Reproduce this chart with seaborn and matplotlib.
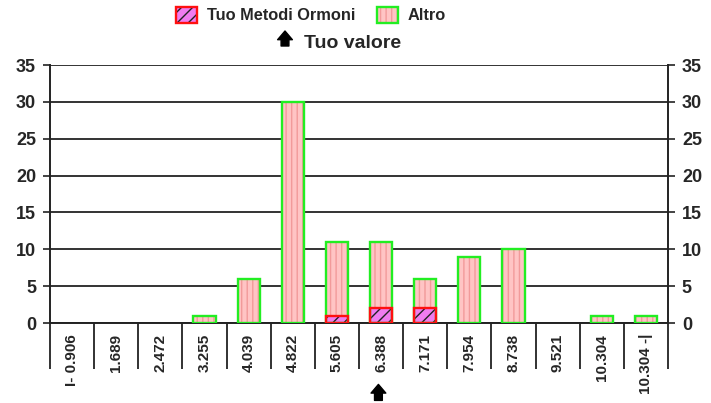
import matplotlib
matplotlib.use("Agg")
import matplotlib.pyplot as plt
from matplotlib.patches import Patch
from matplotlib.legend_handler import HandlerTuple
from matplotlib.text import Annotation
from matplotlib.transforms import blended_transform_factory
import seaborn as sns
import pandas as pd

# Class boundaries (bin labels) and counts
categories = ["I- 0.906", "1.689", "2.472", "3.255", "4.039", "4.822", "5.605",
              "6.388", "7.171", "7.954", "8.738", "9.521", "10.304", "10.304 -|"]
tuo_metodi = [0, 0, 0, 0, 0, 0, 1, 2, 2, 0, 0, 0, 0, 0]
altro = [0, 0, 0, 1, 6, 30, 10, 9, 4, 9, 10, 0, 1, 1]
y_ticks = [0, 5, 10, 15, 20, 25, 30, 35]
tuo_valore = "6.388"

sns.set_theme(style="white")
plt.rcParams["font.family"] = ["Liberation Sans", "DejaVu Sans"]
plt.rcParams["font.weight"] = "bold"
plt.rcParams["hatch.linewidth"] = 1.0

df = pd.DataFrame({"classe": categories, "tuo": tuo_metodi,
                   "altro": altro})
df["totale"] = df["tuo"] + df["altro"]

fig = plt.figure(figsize=(7.11, 4.03), dpi=100)
ax = fig.add_axes([50 / 711, 80 / 403, 618 / 711, 258 / 403])

pink_fill = "#ffc4c4"
pink_stripe = "#f29a9a"
green_edge = "#22ee22"
mag_fill = "#f07cf0"
red_edge = "#ff1010"
W = 0.5


def bars(values, face, hatch_color, hatch, edge):
    """Draw a striped/hatched layer and then its outline on top."""
    n0 = len(ax.patches)
    sns.barplot(data=df, x="classe", y=values, order=categories, color=face,
                width=W, ax=ax, errorbar=None, saturation=1)
    for p in ax.patches[n0:]:
        p.set_facecolor(face)
        p.set_edgecolor(hatch_color)
        p.set_hatch(hatch)
        p.set_linewidth(0)
        p.set_zorder(3)
    n1 = len(ax.patches)
    sns.barplot(data=df, x="classe", y=values, order=categories, color=face,
                width=W, ax=ax, errorbar=None, saturation=1)
    for p in ax.patches[n1:]:
        if p.get_height() <= 0:
            p.set_visible(False)
            continue
        p.set_facecolor("none")
        p.set_edgecolor(edge)
        p.set_linewidth(1.7)
        p.set_zorder(4)
    for p in ax.patches[n0:n1]:
        if p.get_height() <= 0:
            p.set_visible(False)


bars("totale", pink_fill, pink_stripe, "|||", green_edge)
bars("tuo", mag_fill, "#222222", "///", red_edge)

ax.set_ylim(0, 35)
ax.set_xlim(-0.5, len(categories) - 0.5)
ax.set_yticks(y_ticks)
ax.yaxis.grid(True, color="#333333", linewidth=1.4, zorder=0)
ax.set_axisbelow(True)
ax.tick_params(axis="y", left=True, right=True, labelleft=True,
               labelright=True, direction="out", length=5, width=1.2,
               color="#222222", labelsize=13, pad=5)
for lab in ax.get_yticklabels():
    lab.set_fontweight("bold")

# category separators hanging below the axis
ax.set_xticks([i - 0.5 for i in range(len(categories) + 1)], minor=True)
ax.tick_params(axis="x", which="minor", bottom=True, direction="out",
               length=33, width=1.3, color="#222222")
ax.tick_params(axis="x", which="major", bottom=False, length=0, pad=8,
               labelsize=11)
ax.set_xticklabels(categories, rotation=90, fontweight="bold", va="top")
ax.set_xlabel("")
ax.set_ylabel("")

for side in ["left", "right", "bottom"]:
    ax.spines[side].set_visible(True)
    ax.spines[side].set_color("#222222")
    ax.spines[side].set_linewidth(1.4)
ax.spines["top"].set_visible(False)

arrow_style = "simple,head_length=0.5,head_width=0.85,tail_width=0.45"
arrow_props = dict(arrowstyle=arrow_style, color="black",
                   shrinkA=0, shrinkB=0, mutation_scale=12.5)

# marker under the bin holding your value
idx = categories.index(tuo_valore)
trans = blended_transform_factory(ax.transData, ax.transAxes)
ax.annotate("", xy=(idx - 0.06, -0.238), xycoords=trans,
            xytext=(idx - 0.06, -0.300), textcoords=trans,
            arrowprops=arrow_props, annotation_clip=False)

# legend
h_tuo = (Patch(facecolor=mag_fill, edgecolor="#222222", hatch="///", lw=0),
         Patch(facecolor="none", edgecolor=red_edge, lw=1.7))
h_alt = (Patch(facecolor=pink_fill, edgecolor=pink_stripe, hatch="|||", lw=0),
         Patch(facecolor="none", edgecolor=green_edge, lw=1.7))
fig.legend([h_tuo, h_alt], ["Tuo Metodi Ormoni", "Altro"],
           handler_map={tuple: HandlerTuple(ndivide=1, pad=0)},
           loc="center", bbox_to_anchor=(311 / 711, 1 - 15 / 403), ncol=2,
           frameon=False, prop={"weight": "bold", "size": 11.8},
           handlelength=1.3, handleheight=1.2, columnspacing=1.3,
           handletextpad=0.6)

# figure-level arrow next to the caption
fig.add_artist(Annotation(
    "", xy=(285 / 711, 1 - 31 / 403), xycoords="figure fraction",
    xytext=(285 / 711, 1 - 46 / 403), textcoords="figure fraction",
    arrowprops=arrow_props, annotation_clip=False))
fig.text(304 / 711, 1 - 43 / 403, "Tuo valore", ha="left", va="center",
         fontsize=14, fontweight="bold")

fig.savefig("out.png", dpi=100)
